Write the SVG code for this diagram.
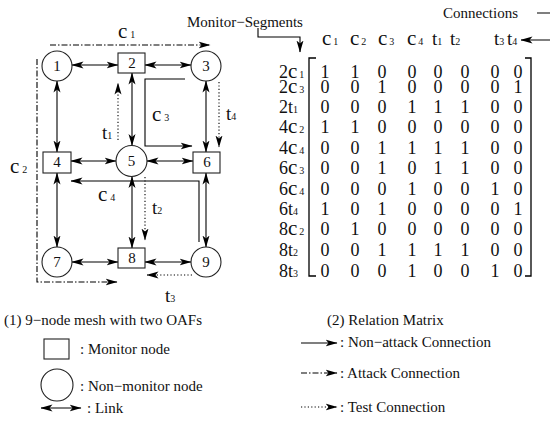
<svg xmlns="http://www.w3.org/2000/svg" width="550" height="421" viewBox="0 0 550 421">
  <style>
    text { font-family: "Liberation Serif", "Times New Roman", serif; fill: #111; }
    .lbl { font-size: 15px; }
    .nd { font-size: 15px; text-anchor: middle; }
    .big { font-size: 21px; }
    .tt { font-size: 19px; }
    .sub { font-size: 10px; }
    .mx { font-size: 18px; text-anchor: middle; }
    .rl { font-size: 18px; }
    .node { fill: #fff; stroke: #222; stroke-width: 1.1; }
    .link { fill: none; stroke: #000; stroke-width: 1.1; marker-start: url(#ah); marker-end: url(#ah); }
    .conn { fill: none; stroke: #000; stroke-width: 1.1; marker-end: url(#ah); }
    .atk { stroke-dasharray: 6 2 1.5 2; }
    .tst { stroke-dasharray: 1.2 2.2; }
    .brk { fill: none; stroke: #000; stroke-width: 1.3; }
  </style>
  <defs>
    <marker id="ah" viewBox="0 0 12 8" refX="11.5" refY="4" markerWidth="12" markerHeight="8" markerUnits="userSpaceOnUse" orient="auto-start-reverse">
      <path d="M0,0.5 L12,4 L0,7.5 L3,4 Z" fill="#000"/>
    </marker>
  </defs>

  <!-- links between mesh nodes -->
  <g id="links">
    <path class="link" d="M72,65 H118"/>
    <path class="link" d="M145,65 H191"/>
    <path class="link" d="M57,81 V152"/>
    <path class="link" d="M132,73 V145.5"/>
    <path class="link" d="M206,81 V152"/>
    <path class="link" d="M71,161 H116"/>
    <path class="link" d="M147,161 H193"/>
    <path class="link" d="M57,173 V247"/>
    <path class="link" d="M132,176.5 V248"/>
    <path class="link" d="M206,173 V247"/>
    <path class="link" d="M72,262 H118"/>
    <path class="link" d="M145,262 H191"/>
  </g>

  <!-- connections -->
  <g id="connections">
    <path class="conn atk" d="M50,45 H210"/>
    <path class="conn atk" d="M37,59 V282 H117"/>
    <path class="conn" d="M185,79 H145 V146 H192"/>
    <path class="conn" d="M199,242 V181 H71"/>
    <path class="conn tst" d="M118,140 V83"/>
    <path class="conn tst" d="M145,177 V240"/>
    <path class="conn tst" d="M192,275 H147"/>
    <path class="conn tst" d="M219,82 V147"/>
  </g>

  <!-- mesh nodes -->
  <g id="n1"><circle class="node" cx="57" cy="66" r="15"/><text class="nd" x="57" y="71">1</text></g>
  <g id="n2"><rect class="node" x="118" y="53" width="27" height="20"/><text class="nd" x="132" y="68">2</text></g>
  <g id="n3"><circle class="node" cx="206" cy="66" r="15"/><text class="nd" x="206" y="71">3</text></g>
  <g id="n4"><rect class="node" x="43" y="152" width="28" height="21"/><text class="nd" x="57" y="167">4</text></g>
  <g id="n5"><circle class="node" cx="131.5" cy="161" r="15.5"/><text class="nd" x="131.5" y="166">5</text></g>
  <g id="n6"><rect class="node" x="193" y="152" width="27" height="21"/><text class="nd" x="207" y="167">6</text></g>
  <g id="n7"><circle class="node" cx="57" cy="262" r="15"/><text class="nd" x="57" y="267">7</text></g>
  <g id="n8"><rect class="node" x="118" y="248" width="27" height="20"/><text class="nd" x="132" y="263">8</text></g>
  <g id="n9"><circle class="node" cx="206" cy="262" r="15"/><text class="nd" x="206" y="267">9</text></g>

  <!-- connection labels -->
  <g id="conn-labels">
    <text x="118" y="38"><tspan class="big">c</tspan><tspan class="sub" dx="3">1</tspan></text>
    <text x="10" y="173"><tspan class="big">c</tspan><tspan class="sub" dx="3">2</tspan></text>
    <text x="152" y="121"><tspan class="big">c</tspan><tspan class="sub" dx="3">3</tspan></text>
    <text x="98" y="201"><tspan class="big">c</tspan><tspan class="sub" dx="3">4</tspan></text>
    <text x="102" y="139"><tspan class="tt">t</tspan><tspan class="sub">1</tspan></text>
    <text x="152" y="214"><tspan class="tt">t</tspan><tspan class="sub">2</tspan></text>
    <text x="165" y="302"><tspan class="tt">t</tspan><tspan class="sub">3</tspan></text>
    <text x="226" y="120"><tspan class="tt">t</tspan><tspan class="sub">4</tspan></text>
  </g>

  <!-- relation matrix -->
  <g id="matrix">
    <text class="lbl" x="187" y="27">Monitor−Segments</text>
    <path class="conn" d="M258,28 V37 H300 V52"/>
    <text class="lbl" x="443" y="18">Connections</text>
    <path class="conn" d="M537,13 H556 V40 H521"/>

    <g id="col-heads">
      <text x="322" y="45"><tspan class="big">c</tspan><tspan class="sub" dx="2">1</tspan></text>
      <text x="350" y="45"><tspan class="big">c</tspan><tspan class="sub" dx="2">2</tspan></text>
      <text x="378" y="45"><tspan class="big">c</tspan><tspan class="sub" dx="2">3</tspan></text>
      <text x="407" y="45"><tspan class="big">c</tspan><tspan class="sub" dx="2">4</tspan></text>
      <text x="432" y="45"><tspan class="tt">t</tspan><tspan class="sub">1</tspan></text>
      <text x="450" y="45"><tspan class="tt">t</tspan><tspan class="sub">2</tspan></text>
      <text x="494" y="45"><tspan class="tt">t</tspan><tspan class="sub">3</tspan></text>
      <text x="507" y="45"><tspan class="tt">t</tspan><tspan class="sub">4</tspan></text>
    </g>

    <g id="row-heads">
      <text class="rl" x="279" y="78">2<tspan class="big">c</tspan><tspan class="sub" dx="2">1</tspan></text>
      <text class="rl" x="279" y="93">2<tspan class="big">c</tspan><tspan class="sub" dx="2">3</tspan></text>
      <text class="rl" x="279" y="113">2t<tspan class="sub">1</tspan></text>
      <text class="rl" x="279" y="133">4<tspan class="big">c</tspan><tspan class="sub" dx="2">2</tspan></text>
      <text class="rl" x="279" y="154">4<tspan class="big">c</tspan><tspan class="sub" dx="2">4</tspan></text>
      <text class="rl" x="279" y="174">6<tspan class="big">c</tspan><tspan class="sub" dx="2">3</tspan></text>
      <text class="rl" x="279" y="195">6<tspan class="big">c</tspan><tspan class="sub" dx="2">4</tspan></text>
      <text class="rl" x="279" y="215">6t<tspan class="sub">4</tspan></text>
      <text class="rl" x="279" y="235">8<tspan class="big">c</tspan><tspan class="sub" dx="2">2</tspan></text>
      <text class="rl" x="279" y="256">8t<tspan class="sub">2</tspan></text>
      <text class="rl" x="279" y="277">8t<tspan class="sub">3</tspan></text>
    </g>

    <path class="brk" d="M316,58 H309 V276 H316"/>
    <path class="brk" d="M525,58 H531 V276 H525"/>

    <g id="cells">
      <text class="mx" y="78"><tspan x="325">1</tspan><tspan x="355">1</tspan><tspan x="382">0</tspan><tspan x="412">0</tspan><tspan x="438">0</tspan><tspan x="465">0</tspan><tspan x="495">0</tspan><tspan x="518">0</tspan></text>
      <text class="mx" y="93"><tspan x="325">0</tspan><tspan x="355">0</tspan><tspan x="382">1</tspan><tspan x="412">0</tspan><tspan x="438">0</tspan><tspan x="465">0</tspan><tspan x="495">0</tspan><tspan x="518">1</tspan></text>
      <text class="mx" y="113"><tspan x="325">0</tspan><tspan x="355">0</tspan><tspan x="382">0</tspan><tspan x="412">1</tspan><tspan x="438">1</tspan><tspan x="465">1</tspan><tspan x="495">0</tspan><tspan x="518">0</tspan></text>
      <text class="mx" y="133"><tspan x="325">1</tspan><tspan x="355">1</tspan><tspan x="382">0</tspan><tspan x="412">0</tspan><tspan x="438">0</tspan><tspan x="465">0</tspan><tspan x="495">0</tspan><tspan x="518">0</tspan></text>
      <text class="mx" y="154"><tspan x="325">0</tspan><tspan x="355">0</tspan><tspan x="382">1</tspan><tspan x="412">1</tspan><tspan x="438">1</tspan><tspan x="465">1</tspan><tspan x="495">0</tspan><tspan x="518">0</tspan></text>
      <text class="mx" y="174"><tspan x="325">0</tspan><tspan x="355">0</tspan><tspan x="382">1</tspan><tspan x="412">0</tspan><tspan x="438">1</tspan><tspan x="465">1</tspan><tspan x="495">0</tspan><tspan x="518">0</tspan></text>
      <text class="mx" y="195"><tspan x="325">0</tspan><tspan x="355">0</tspan><tspan x="382">0</tspan><tspan x="412">1</tspan><tspan x="438">0</tspan><tspan x="465">0</tspan><tspan x="495">1</tspan><tspan x="518">0</tspan></text>
      <text class="mx" y="215"><tspan x="325">1</tspan><tspan x="355">0</tspan><tspan x="382">1</tspan><tspan x="412">0</tspan><tspan x="438">0</tspan><tspan x="465">0</tspan><tspan x="495">0</tspan><tspan x="518">1</tspan></text>
      <text class="mx" y="235"><tspan x="325">0</tspan><tspan x="355">1</tspan><tspan x="382">0</tspan><tspan x="412">0</tspan><tspan x="438">0</tspan><tspan x="465">0</tspan><tspan x="495">0</tspan><tspan x="518">0</tspan></text>
      <text class="mx" y="256"><tspan x="325">0</tspan><tspan x="355">0</tspan><tspan x="382">1</tspan><tspan x="412">1</tspan><tspan x="438">1</tspan><tspan x="465">1</tspan><tspan x="495">0</tspan><tspan x="518">0</tspan></text>
      <text class="mx" y="277"><tspan x="325">0</tspan><tspan x="355">0</tspan><tspan x="382">0</tspan><tspan x="412">1</tspan><tspan x="438">0</tspan><tspan x="465">0</tspan><tspan x="495">1</tspan><tspan x="518">0</tspan></text>
    </g>
  </g>

  <!-- captions -->
  <text class="lbl" x="4" y="325">(1) 9−node mesh with two OAFs</text>
  <text class="lbl" x="327" y="325">(2) Relation Matrix</text>

  <!-- legend -->
  <g id="legend">
    <rect class="node" x="44" y="339" width="25" height="20"/>
    <text class="lbl" x="80" y="354">: Monitor node</text>
    <circle class="node" cx="57" cy="385" r="16"/>
    <text class="lbl" x="80" y="391">: Non−monitor node</text>
    <path class="link" d="M41,408 H81"/>
    <text class="lbl" x="87" y="413">: Link</text>
    <path class="conn" d="M301,343 H337"/>
    <text class="lbl" x="340" y="347">: Non−attack Connection</text>
    <path class="conn atk" d="M301,373 H337"/>
    <text class="lbl" x="340" y="378">: Attack Connection</text>
    <path class="conn tst" d="M301,407 H337"/>
    <text class="lbl" x="340" y="412">: Test Connection</text>
  </g>
</svg>
